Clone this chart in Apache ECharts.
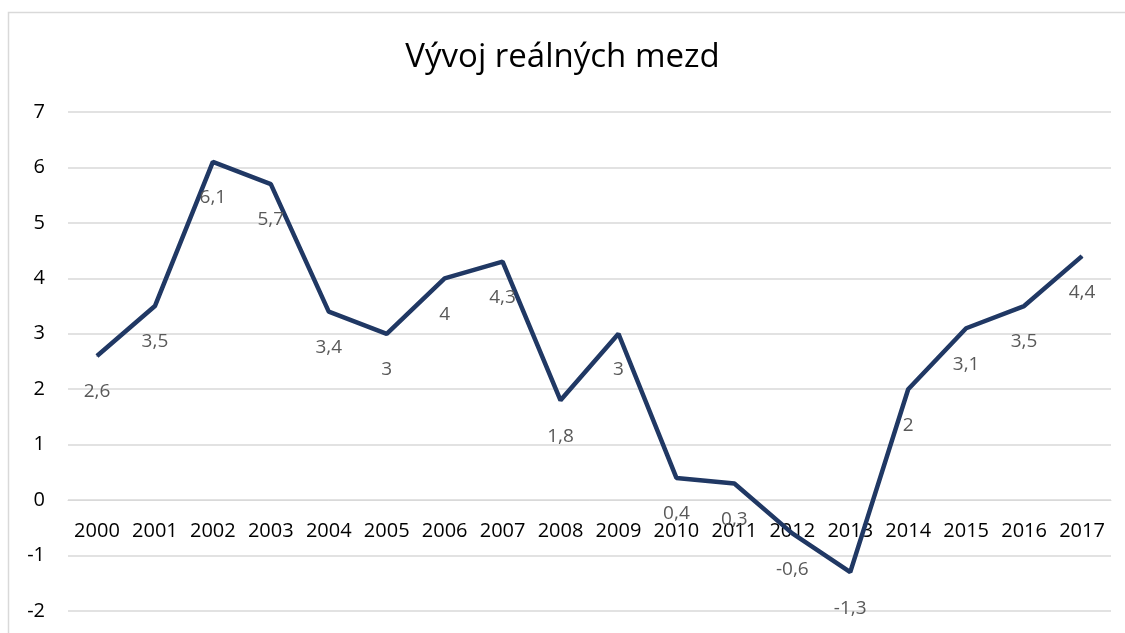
<!DOCTYPE html>
<html>
<head>
<meta charset="utf-8">
<script src="https://cdn.jsdelivr.net/npm/echarts@6/dist/echarts.min.js"></script>
<style>
html,body{margin:0;padding:0;background:#fff;}
#chart{width:1125px;height:633px;}
</style>
</head>
<body>
<div id="chart"></div>
<script>
const categories = ['2000','2001','2002','2003','2004','2005','2006','2007','2008','2009','2010','2011','2012','2013','2014','2015','2016','2017'];
const values = [2.6, 3.5, 6.1, 5.7, 3.4, 3, 4, 4.3, 1.8, 3, 0.4, 0.3, -0.6, -1.3, 2, 3.1, 3.5, 4.4];
const titleText = 'Vývoj reálných mezd';

const gridTop = 112, gridBottom = 22, chartH = 633;
const yMin = -2, yMax = 7;
const plotH = chartH - gridTop - gridBottom;
const zeroOffset = -plotH * (0 - yMin) / (yMax - yMin);

const chart = echarts.init(document.getElementById('chart'));
chart.setOption({
  backgroundColor: '#ffffff',
  animation: false,
  graphic: [{
    type: 'rect',
    shape: {x: 8.5, y: 12.5, width: 1300, height: 800},
    style: {fill: 'none', stroke: '#d9d9d9', lineWidth: 1.5},
    silent: true
  }],
  title: {
    text: titleText,
    left: 'center',
    top: 36,
    textStyle: {fontFamily: 'Open Sans', fontSize: 33, fontWeight: 'normal', color: '#000000'}
  },
  grid: {left: 68, right: 14, top: gridTop, bottom: gridBottom, containLabel: false, outerBoundsMode: 'none'},
  xAxis: {
    type: 'category',
    data: categories,
    boundaryGap: true,
    offset: zeroOffset,
    axisLine: {show: true, onZero: false, lineStyle: {color: '#d9d9d9', width: 1}},
    axisTick: {show: false},
    axisLabel: {fontFamily: 'Open Sans', fontSize: 20, color: '#000000', margin: 21, interval: 0}
  },
  yAxis: {
    type: 'value',
    min: yMin,
    max: yMax,
    interval: 1,
    axisLine: {show: false},
    axisTick: {show: false},
    splitLine: {lineStyle: {color: '#d9d9d9', width: 1.5}},
    axisLabel: {fontFamily: 'Open Sans', fontSize: 20, color: '#000000', margin: 23}
  },
  series: [{
    type: 'line',
    data: values,
    symbol: 'circle',
    symbolSize: 1,
    showSymbol: true,
    itemStyle: {color: '#203864'},
    lineStyle: {color: '#203864', width: 4.5},
    label: {
      show: true,
      position: 'bottom',
      distance: 26,
      fontFamily: 'Open Sans',
      fontSize: 19,
      color: '#595959',
      formatter: p => String(p.value).replace('.', ',')
    },
    z: 3
  }]
});
</script>
</body>
</html>
